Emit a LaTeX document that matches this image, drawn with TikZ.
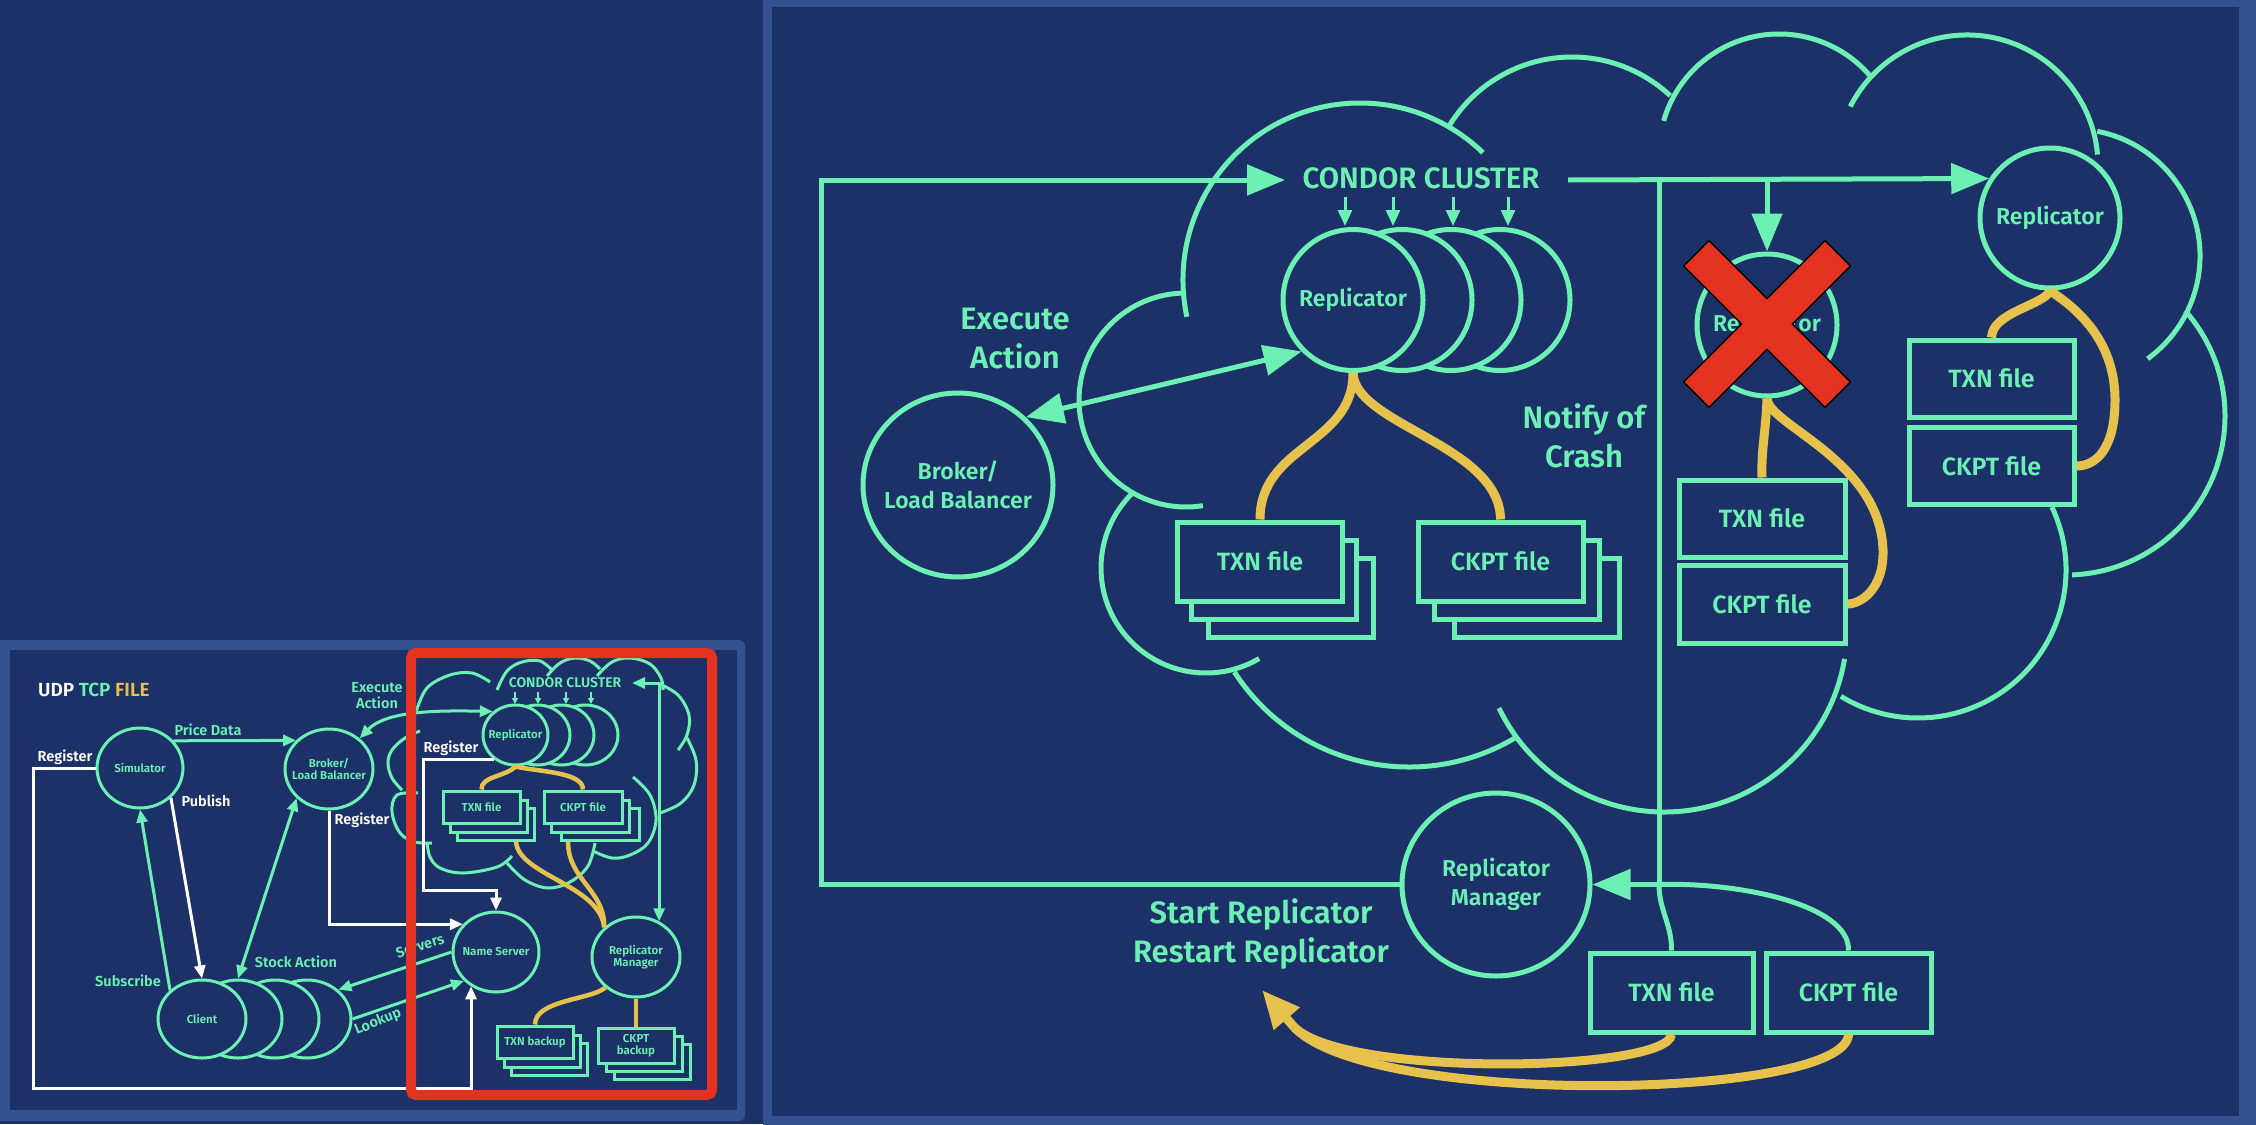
\documentclass[tikz,border=0pt]{standalone}
\usepackage{fontspec}
\setmainfont{Fira Sans}
\IfFontExistsTF{Fira Sans Medium}{\newfontfamily\medf{Fira Sans Medium}}{\newfontfamily\medf{Fira Sans}[FakeBold=1.2]}
\IfFontExistsTF{Fira Sans SemiBold}{\newfontfamily\semif{Fira Sans SemiBold}}{\newfontfamily\semif{Fira Sans}[FakeBold=2]}
\usetikzlibrary{shapes.geometric,arrows.meta,calc}
\definecolor{bg}{HTML}{1B3168}
\definecolor{panel}{HTML}{34528F}
\definecolor{grn}{HTML}{6DF0B3}
\definecolor{yel}{HTML}{E6C14C}
\definecolor{xred}{HTML}{E3321F}
\newcommand\fs[2]{\fontsize{#1pt}{#2pt}\selectfont}
\tikzset{
 gline/.style={draw=grn, line width=5pt},
 garrow/.style={gline, -{Triangle[length=38pt,width=30pt]}},
 gdarrow/.style={gline, {Triangle[length=38pt,width=30pt]}-{Triangle[length=38pt,width=30pt]}},
 yline/.style={draw=yel, line width=9pt},
 yarrow/.style={yline, -{Triangle[length=38pt,width=32pt]}},
 tinyarr/.style={draw=grn, line width=3pt, -{Triangle[length=16pt,width=14pt]}},
 bigcirc/.style={ellipse, draw=grn, line width=5pt, fill=bg, inner sep=0pt},
 ctext/.style={text=grn, align=center, font=\semif\fs{23}{28.5}, inner sep=0pt},
 bigfile/.style={rectangle, draw=grn, line width=5pt, fill=bg, inner sep=0pt, text=grn, font=\semif\fs{25}{30}, minimum width=165pt, minimum height=79pt},
 biglabel/.style={text=grn, align=center, font=\semif\fs{31}{39}, inner sep=0pt},
 sline/.style={draw=grn, line width=3pt},
 sarrow/.style={sline, -{Triangle[length=13pt,width=11pt]}},
 sdarrow/.style={sline, {Triangle[length=13pt,width=11pt]}-{Triangle[length=13pt,width=11pt]}},
 stiny/.style={draw=grn, line width=1.8pt, -{Triangle[length=6pt,width=6pt]}},
 wline/.style={draw=white, line width=3pt},
 warrow/.style={wline, -{Triangle[length=13pt,width=11pt]}},
 syline/.style={draw=yel, line width=4.5pt},
 smallcirc/.style={ellipse, draw=grn, line width=3pt, fill=bg, inner sep=0pt, minimum width=87pt, minimum height=80pt},
 sctext/.style={text=grn, align=center, font=\semif\fs{11.5}{12.5}, inner sep=0pt},
 smallfile/.style={rectangle, draw=grn, line width=3pt, fill=bg, inner sep=0pt, text=grn, align=center, font=\semif\fs{11.5}{12.5}, minimum width=77pt, minimum height=32pt},
 slabel/.style={text=grn, align=center, font=\semif\fs{14.5}{16}, inner sep=0pt},
 wlabel/.style={slabel, text=white},
 scloud/.style={draw=grn, line width=3pt, smooth, tension=0.6},
}
\begin{document}
\begin{tikzpicture}[x=1pt,y=-1pt]
\useasboundingbox (0,0) rectangle (2256,1124);
\fill[bg] (0,0) rectangle (2256,1124);
% panels
\fill[panel, rounded corners=6pt] (-6,640) rectangle (745,1121);
\fill[bg] (10,650) rectangle (737,1110);
\fill[panel] (763,-6) rectangle (2262,1130);
\fill[bg] (772,7) rectangle (2239,1116);

% ================= BIG DIAGRAM =================
% cloud
\draw[gline] (1360,280) ++(168:177) arc[start angle=168, end angle=314, radius=177];
\draw[gline] (1572,201) ++(212:144) arc[start angle=212, end angle=313, radius=144];
\draw[gline] (1779,154) ++(196:120) arc[start angle=196, end angle=319, radius=120];
\draw[gline] (1967,166) ++(207:131) arc[start angle=207, end angle=355, radius=131];
\draw[gline] (2073,256) ++(281:127) arc[start angle=281, end angle=414, radius=127];
\draw[gline] (2066,416) ++(318.6:159) arc[start angle=318.6, end angle=447.8, radius=159];
\draw[gline] (1918,570) ++(334.8:148) arc[start angle=334.8, end angle=481.4, radius=148];
\draw[gline] (1664,629) ++(9.4:183) arc[start angle=9.4, end angle=154.4, radius=183];
\draw[gline] (1409,559) ++(59.4:208) arc[start angle=59.4, end angle=147.1, radius=208];
\draw[gline] (1206,568) ++(225.8:105) arc[start angle=225.8, end angle=59.6, radius=105];
\draw[gline] (1186,400) ++(267.3:107) arc[start angle=267.3, end angle=80.9, radius=107];

% replicator stack
\node[bigcirc, minimum width=140pt, minimum height=141pt] (rep4) at (1500,300) {};
\node[bigcirc, minimum width=140pt, minimum height=141pt] (rep3) at (1451,300) {};
\node[bigcirc, minimum width=140pt, minimum height=141pt] (rep2) at (1402,300) {};
\node[bigcirc, minimum width=140pt, minimum height=141pt] (rep1) at (1353,300) {};
\node[ctext] (rep1t) at (rep1) {Replicator};
\node[bigcirc, minimum width=190pt, minimum height=184pt] (broker) at (958,485) {};
\node[ctext] (brokert) at (broker) {Broker/\\Load Balancer};
\node[bigcirc, minimum width=140pt, minimum height=142pt] (repx) at (1767,325) {};
\node[ctext] (repxt) at (repx) {Replicator};
\node[bigcirc, minimum width=140pt, minimum height=140pt] (rrep) at (2050,218) {};
\node[ctext] (rrept) at (rrep) {Replicator};
\node[bigcirc, minimum width=188pt, minimum height=183pt] (manager) at (1496,884.5) {};
\node[ctext] (managert) at (manager) {Replicator\\Manager};

% file stacks
\node[bigfile] (txn1c) at (1291,598) {};
\node[bigfile] (txn1b) at (1274,580) {};
\node[bigfile] (txn1) at (1260,561.5) {TXN file};
\node[bigfile] (ckpt1c) at (1537,598) {};
\node[bigfile] (ckpt1b) at (1517,580) {};
\node[bigfile] (ckpt1) at (1500.5,561.5) {CKPT file};
\node[bigfile, minimum width=166pt, minimum height=77pt] (txn2) at (1762,518.5) {TXN file};
\node[bigfile, minimum width=166pt, minimum height=78pt] (ckpt2) at (1762,604) {CKPT file};
\node[bigfile, minimum height=77pt] (txn3) at (1991.5,378.5) {TXN file};
\node[bigfile, minimum height=77pt] (ckpt3) at (1991.5,466) {CKPT file};
\node[bigfile, minimum width=163pt] (txn4) at (1671.5,992.5) {TXN file};
\node[bigfile] (ckpt4) at (1848.5,992.5) {CKPT file};

% cluster text and lines
\node[text=grn, font=\semif\fs{29.5}{32}, inner sep=0pt] (condor) at (1421,178) {CONDOR CLUSTER};
\coordinate (cl) at (1285,180);
\coordinate (cr) at (1568,180);
\coordinate (tj) at (1659,180);
\coordinate (nj) at (1659,884.5);
\coordinate (loopc) at (821,180);
\draw[garrow] (manager.west) -| (loopc) -- (cl);
\draw[garrow] (cr) -- (rrep.147);
\draw[gline] (tj) -- (nj);
\draw[garrow] (nj) -- (manager.east);
\draw[gline] (txn4.north) .. controls (1672,925) and (1659,910) .. (nj);
\draw[gline] (ckpt4.north) .. controls (1850,905) and (1740,882) .. (nj);
\draw[garrow] (repx.north |- cr) -- (repx.north);
\draw[gdarrow] (broker.45) -- (rep1.225);
\foreach \x in {1345,1393,1453,1508} \draw[tinyarr] (\x,197) -- (\x,226);

% yellow links
\draw[yline] (rep1.south) .. controls (1353,445) and (1260,445) .. (txn1.north);
\draw[yline] (rep1.south) .. controls (1355,425) and (1500,445) .. (ckpt1.north);
\draw[yline] (repx.south) .. controls (1766,430) and (1761,450) .. (txn2.north);
\draw[yline] (repx.south) .. controls (1768,425) and (1880,460) .. (1883,550) .. controls (1884,590) and (1860,604) .. (ckpt2.east);
\draw[yline] (rrep.south) .. controls (2045,305) and (1992,312) .. (txn3.north);
\draw[yline] (rrep.south) .. controls (2062,300) and (2115,330) .. (2115,400) .. controls (2115,450) and (2095,466) .. (ckpt3.east);
\coordinate (sr) at (1262,990);
\coordinate (mp) at (1294,1027);
\draw[yline] (txn4.south) .. controls (1668,1072) and (1345,1078) .. (mp);
\draw[yline] (ckpt4.south) .. controls (1845,1100) and (1370,1108) .. (mp);
\draw[yarrow] (mp) -- (sr);

% labels
\node[biglabel] (exec) at (1015,339) {Execute\\Action};
\node[biglabel] (notify) at (1584,436) {Notify of\\Crash};
\node[biglabel] (startl) at (1261,933.5) {Start Replicator\\Restart Replicator};

% red X
\begin{scope}[shift={(1767,324)}, rotate=45]
\filldraw[fill=xred, draw=black, line width=1.5pt] (100,18) -- (18,18) -- (18,100) -- (-18,100) -- (-18,18) -- (-100,18) -- (-100,-18) -- (-18,-18) -- (-18,-100) -- (18,-100) -- (18,-18) -- (100,-18) -- cycle;
\end{scope}

% ================= SMALL DIAGRAM =================
\node[font=\semif\fs{19}{22}, inner sep=0pt, anchor=west] (legend) at (38,690) {\textcolor{white}{UDP} \textcolor{grn}{TCP} \textcolor{yel}{FILE}};

% small cloud
\draw[scloud] plot coordinates {(416,712) (427,688) (450,675) (472,673) (490,682)};
\draw[scloud] plot coordinates {(497,690) (507,671) (522,662) (540,661) (553,671)};
\draw[scloud] plot coordinates {(547,676) (560,663) (575,658) (590,661) (600,669)};
\draw[scloud] plot coordinates {(597,676) (612,662) (630,658) (650,664) (661,678) (663,690)};
\draw[scloud] plot coordinates {(658,683) (678,695) (689,715) (687,735) (678,750)};
\draw[scloud] plot coordinates {(686,736) (696,760) (694,785) (681,803) (660,813)};
\draw[scloud] plot coordinates {(633,777) (650,795) (656,820) (648,843) (630,855) (612,858) (593,851)};
\draw[scloud] plot coordinates {(595,843) (588,866) (570,882) (548,888) (525,880) (507,863)};
\draw[scloud] plot coordinates {(512,856) (497,867) (463,873) (440,868) (430,857) (427,842)};
\draw[scloud] plot coordinates {(418,793) (397,795) (392,812) (400,833) (415,842) (432,843)};
\draw[scloud] plot coordinates {(420,731) (405,738) (392,750) (388,763) (392,778) (402,790)};

% small nodes
\node[smallcirc, minimum width=86pt] (sim) at (140,768) {};
\node[sctext] (simt) at (sim) {Simulator};
\node[smallcirc, minimum width=88pt] (sbroker) at (329,769) {};
\node[sctext] (sbrokert) at (sbroker) {Broker/\\Load Balancer};
\node[smallcirc, minimum width=88pt, minimum height=78pt] (c4) at (307,1019) {};
\node[smallcirc, minimum width=88pt, minimum height=78pt] (c3) at (275,1019) {};
\node[smallcirc, minimum width=88pt, minimum height=78pt] (c2) at (238,1019) {};
\node[smallcirc, minimum width=88pt, minimum height=78pt] (c1) at (202,1019) {};
\node[sctext] (c1t) at (c1) {Client};
\node[smallcirc, minimum width=86pt] (nameserver) at (496,952) {};
\node[sctext] (nst) at (nameserver) {Name Server};
\node[smallcirc, minimum width=65pt, minimum height=60pt] (srep4) at (585.5,735) {};
\node[smallcirc, minimum width=65pt, minimum height=60pt] (srep3) at (561.5,735) {};
\node[smallcirc, minimum width=65pt, minimum height=60pt] (srep2) at (537.5,735) {};
\node[smallcirc, minimum width=65pt, minimum height=60pt] (srep1) at (515.5,735) {};
\node[sctext] (srep1t) at (srep1) {Replicator};
\node[smallcirc, minimum width=88pt] (smanager) at (636,957) {};
\node[sctext] (smant) at (smanager) {Replicator\\Manager};

\node[smallfile] (stxn3) at (496,824) {};
\node[smallfile] (stxn2) at (488.5,816) {};
\node[smallfile] (stxn) at (481.5,807) {TXN file};
\node[smallfile, minimum width=78pt] (sckpt3) at (600,824) {};
\node[smallfile, minimum width=78pt] (sckpt2) at (590.5,816) {};
\node[smallfile, minimum width=78pt] (sckpt) at (583,807) {CKPT file};
\node[smallfile, minimum width=76pt] (stxnb3) at (549.5,1059) {};
\node[smallfile, minimum width=76pt] (stxnb2) at (542,1051) {};
\node[smallfile, minimum width=76pt] (stxnb) at (535,1042) {TXN backup};
\node[smallfile, minimum width=76pt, minimum height=35pt] (sckptb3) at (652.5,1061.5) {};
\node[smallfile, minimum width=76pt, minimum height=35pt] (sckptb2) at (644,1053.5) {};
\node[smallfile, minimum width=76pt, minimum height=35pt] (sckptb) at (636,1045.5) {CKPT\\backup};

\node[text=grn, font=\semif\fs{14}{16}, inner sep=0pt] (scondor) at (565,683) {CONDOR CLUSTER};
\coordinate (scr) at (632,683);

% small connectors
\draw[sarrow] (sim.39) -- (sbroker.139);
\draw[warrow] (sim.west) -| (33,1088) -| (nameserver.234);
\draw[warrow] (sim.316) -- (c1.north);
\draw[sarrow] (c1.138) -- (sim.south);
\draw[sdarrow] (c2.north) -- (sbroker.222);
\draw[warrow] (sbroker.south) |- (nameserver.140);
\draw[warrow] (srep1.228) -| (423,890) -| (nameserver.north);
\draw[sdarrow] (sbroker.45) .. controls (385,712) and (430,710) .. (srep1.134);
\draw[sarrow] (nameserver.west) -- (c4.43);
\draw[sarrow] (c4.east) -- (nameserver.222);
\draw[sdarrow] (scr) -| (smanager.57);
\foreach \x in {515,538,566,591} \draw[stiny] (\x,692) -- (\x,704);

\draw[syline] (srep1.south) .. controls (505,777) and (481,776) .. (stxn.north);
\draw[syline] (srep1.south) .. controls (540,772) and (583,772) .. (sckpt.north);
\draw[syline] ([xshift=20pt]stxn3.south) .. controls (518,875) and (600,885) .. (smanager.137);
\draw[syline] ([xshift=-32pt]sckpt3.south) .. controls (568,880) and (605,890) .. (smanager.137);
\draw[syline] (smanager.225) .. controls (590,1000) and (535,1000) .. (stxnb.north);
\draw[syline] (smanager.south) -- (sckptb.north);

% small labels
\node[slabel] (pricelab) at (208,730) {Price Data};
\node[wlabel] (reglab1) at (65,757) {Register};
\node[wlabel] (publab) at (206,801) {Publish};
\node[slabel] (sublab) at (128,981) {Subscribe};
\node[slabel] (stocklab) at (296,962) {Stock Action};
\node[wlabel] (reglab2) at (362,820) {Register};
\node[slabel] (execlab) at (377,696) {Execute\\Action};
\node[wlabel] (reglab3) at (451,748) {Register};
\node[slabel, rotate=18] (servlab) at (420,946) {Servers};
\node[slabel, rotate=22] (looklab) at (378,1022) {Lookup};

% red frame
\draw[xred, line width=10pt, rounded corners=5pt] (411,653) rectangle (712,1095);
\end{tikzpicture}
\end{document}
